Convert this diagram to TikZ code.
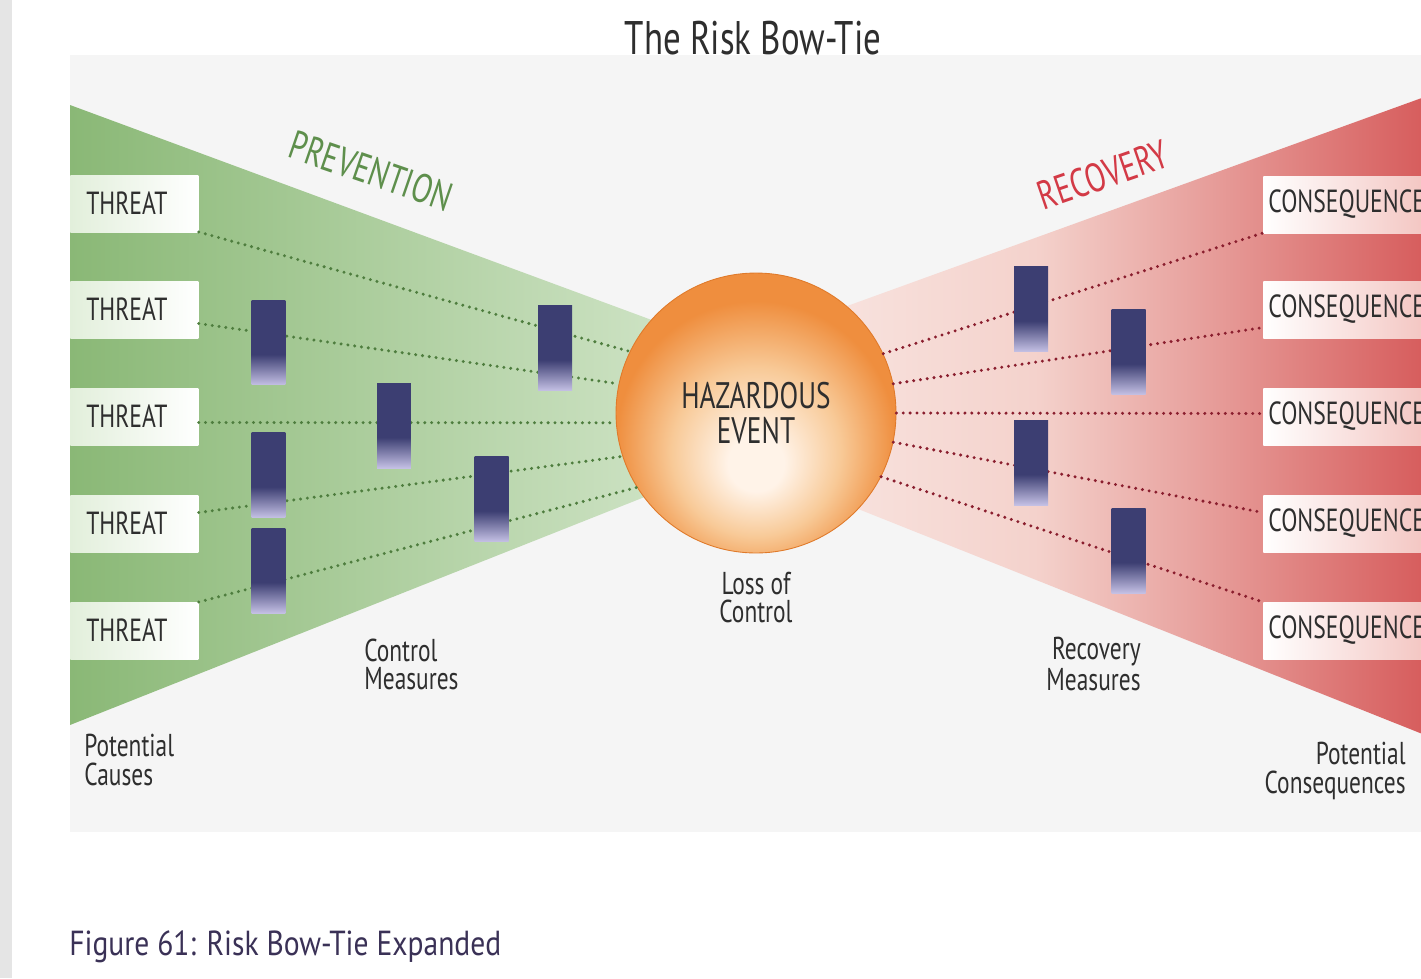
\documentclass[tikz,border=0pt]{standalone}
\usepackage{fontspec}
\setmainfont{PT Sans}[FakeStretch=0.74]
\newfontfamily\captionfamily{PT Sans}[FakeStretch=0.85]
\usetikzlibrary{calc, positioning}

\definecolor{inkgray}{HTML}{2E2E2E}
\definecolor{greenL}{HTML}{8AB876}
\definecolor{greenR}{HTML}{E6F2E0}
\definecolor{redL}{HTML}{FCF2EF}
\definecolor{redM}{HTML}{F4D2CC}
\definecolor{redR}{HTML}{D65B5B}
\definecolor{threatL}{HTML}{E2EFDB}
\definecolor{consR}{HTML}{F0B5B0}
\definecolor{dotgreen}{HTML}{4E7D3E}
\definecolor{dotred}{HTML}{8A1E2E}
\definecolor{bardark}{HTML}{3C3E72}
\definecolor{barlight}{HTML}{C4C0E4}
\definecolor{hzcore}{HTML}{FFF3E8}
\definecolor{hzmid}{HTML}{F8CA98}
\definecolor{hzrim}{HTML}{EF8E3E}
\definecolor{hzedge}{HTML}{E07A2A}
\definecolor{prevgreen}{HTML}{5E8F4C}
\definecolor{recred}{HTML}{D33A46}
\definecolor{capink}{HTML}{3A3156}

\pgfdeclareverticalshading{barriershade}{100bp}{color(0bp)=(barlight); color(25bp)=(barlight); color(43bp)=(bardark); color(100bp)=(bardark)}
\pgfdeclareradialshading{hzball}{\pgfpoint{0bp}{-10bp}}{color(0bp)=(hzcore); color(5bp)=(hzcore); color(15bp)=(hzmid); color(25bp)=(hzrim); color(50bp)=(hzrim)}

\newcommand\boxfont{\fontsize{18.2}{20}\selectfont}
\newcommand\hazfont{\fontsize{21}{20}\selectfont}
\newcommand\wedgefont{\fontsize{23}{24}\selectfont}
\newcommand\notefont{\fontsize{18}{16}\selectfont}
\newcommand\bowtitlefont{\fontsize{26.8}{28}\selectfont}
\newcommand\figcapfont{\captionfamily\fontsize{19.8}{22}\selectfont}

\begin{document}
\begin{tikzpicture}[x=0.02cm, y=-0.02cm,
    threatbox/.style={left color=threatL, right color=white, anchor=west,
      minimum height=1.14cm, inner xsep=0.32cm, inner ysep=0pt,
      text width=1.92cm, align=left, font=\boxfont, text=inkgray},
    consbox/.style={left color=white, right color=consR, anchor=west,
      minimum height=1.14cm, inner xsep=0.1cm, inner ysep=0pt,
      text width=4cm, align=left, font=\boxfont, text=inkgray},
    barrier/.style={shade, shading=barriershade, minimum width=0.68cm,
      minimum height=1.7cm, inner sep=0pt},
    hazard/.style={circle, shade, shading=hzball, draw=hzedge, line width=0.5pt,
      minimum size=5.6cm, inner sep=0pt, align=center, font=\hazfont, text=inkgray},
    greendots/.style={draw=dotgreen, line width=1.9pt, line cap=round, dash pattern=on 0pt off 3.9pt},
    reddots/.style={draw=dotred, line width=1.9pt, line cap=round, dash pattern=on 0pt off 3.9pt},
    note/.style={font=\notefont, text=inkgray, inner sep=0pt}]

    % Page
    \useasboundingbox (0,0) rectangle (1421,978);
    \clip (0,0) rectangle (1421,978);
    \fill[white] (0,0) rectangle (1421,978);
    \fill[black!4] (70,55) rectangle (1421,832);
    \fill[black!10] (0,0) rectangle (12,978);

    % Prevention and recovery wedges
    \shade[left color=greenL, right color=greenR] (70,105) -- (879,404) -- (70,725) -- cycle;
    \shade[left color=redL, right color=redR, middle color=redM] (640,381) -- (1430,95) -- (1430,737) -- (640,422) -- cycle;
    \node[text=prevgreen, font=\wedgefont, rotate=-19] (prev) at (371,171) {PREVENTION};
    \node[text=recred, font=\wedgefont, rotate=19] (recov) at (1103,175) {RECOVERY};

    % Threats and consequences
    \foreach \i/\y in {1/203.5, 2/309.5, 3/416.5, 4/523.5, 5/630.5}
        \node[threatbox] (t\i) at (70,\y) {THREAT};
    \foreach \i/\y in {1/204.5, 2/309.5, 3/416.5, 4/523.5, 5/630.5}
        \node[consbox] (c\i) at (1263,\y) {CONSEQUENCE};

    % Hazardous event
    \node[hazard] (hz) at (756,413) {HAZARDOUS\\EVENT};

    % Dotted paths
    \foreach \i/\dy/\a in {1/28.5/154, 2/14/168, 3/6/184, 4/-11/198, 5/-28.5/212}
        \draw[greendots] ($(t\i.east)+(0,\dy)$) -- (hz.\a);
    \foreach \i/\dy/\a in {1/28.5/25, 2/18/12, 3/-3/0, 4/-11/-12, 5/-28.5/-27}
        \draw[reddots] (hz.\a) -- ($(c\i.west)+(0,\dy)$);

    % Control measures
    \node[barrier] (b1) at (268.5,342.5) {};
    \node[barrier] (b2) at (555,348) {};
    \node[barrier] (b3) at (394,425.5) {};
    \node[barrier] (b4) at (268.5,475) {};
    \node[barrier] (b5) at (491.5,499) {};
    \node[barrier] (b6) at (268.5,570.5) {};
    % Recovery measures
    \node[barrier] (r1) at (1031,309) {};
    \node[barrier] (r2) at (1128.5,352) {};
    \node[barrier] (r3) at (1031,462.5) {};
    \node[barrier] (r4) at (1128.5,550.5) {};

    % Labels
    \node[note, align=center, below=0.36cm of hz] (loss) {Loss of\\Control};
    \node[note, align=left, anchor=west] (ctrl) at (364,664) {Control\\Measures};
    \node[note, align=right, anchor=east] (recm) at (1141,664) {Recovery\\Measures};
    \node[note, align=left, anchor=west] (causes) at (84,760) {Potential\\Causes};
    \node[note, align=right, anchor=east] (conseq) at (1406,771) {Potential\\Consequences};

    \node[font=\bowtitlefont, text=inkgray] (title) at (753,38) {The Risk Bow-Tie};
    \node[font=\figcapfont, text=capink, anchor=west, inner sep=0pt] (caption) at (69,947) {Figure 61: Risk Bow-Tie Expanded};
\end{tikzpicture}
\end{document}
